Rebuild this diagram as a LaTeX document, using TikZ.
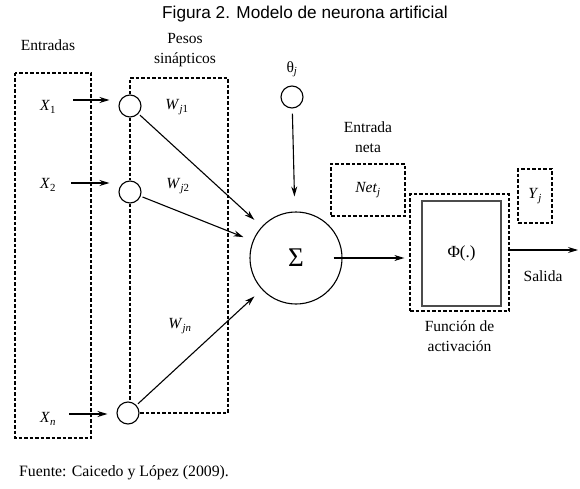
\documentclass[tikz,border=0pt]{standalone}
\usepackage{fontspec}
\setmainfont{Liberation Serif}
\newfontfamily\titlefont{Liberation Sans}
\usetikzlibrary{positioning,arrows.meta}
\tikzset{
  neuron/.style={draw, circle, minimum size=22pt, inner sep=0pt, line width=1.1pt},
  dashbox/.style={draw, dash pattern=on 3.5pt off 2pt, line width=1.3pt},
  lbl/.style={font=\fontsize{15.5}{20}\selectfont, inner sep=1pt},
  conn/.style={-{Stealth[length=10pt,width=6pt]}, line width=1.1pt},
}
\begin{document}
\begin{tikzpicture}[x=1pt,y=-1pt]
    \useasboundingbox (0,0) rectangle (580,489);
    \fill[white] (0,0) rectangle (580,489);
    \node[font=\titlefont\fontsize{17.2}{19}\selectfont] (title) at (305,14) {Figura 2. Modelo de neurona artificial};
    % entradas
    \node[lbl] (ent) at (48,45) {Entradas};
    \draw[dashbox] (15,73) rectangle (91,438);
    \node[lbl] (x1) at (48,107) {\textit{X}\textsubscript{1}};
    \node[lbl] (x2) at (48,185) {\textit{X}\textsubscript{2}};
    \node[lbl] (xn) at (48,419) {\textit{X}\textsubscript{\textit{n}}};
    % pesos sinapticos
    \node[lbl, align=center] (pes) at (185,50) {Pesos\\sinápticos};
    \node[neuron] (c1) at (130,106) {};
    \node[neuron] (c2) at (130,192) {};
    \node[neuron] (cn) at (128,413) {};
    \draw[dashbox] (c1.north) -- (c1.north |- 0,78) -| (228,413) -- (cn.east);
    \draw[dashbox] (c1.south) -- (c2.north);
    \draw[dashbox] (c2.south) -- (cn.north -| c2.south);
    \node[lbl] (w1) at (177,107) {\textit{W}\textsubscript{\textit{j}1}};
    \node[lbl] (w2) at (178,186) {\textit{W}\textsubscript{\textit{j}2}};
    \node[lbl] (wn) at (180,326) {\textit{W}\textsubscript{\textit{jn}}};
    \coordinate (in1) at (73,100);
    \coordinate (in2) at (71,183);
    \coordinate (inn) at (69,414);
    \draw[conn, shorten >=9pt] (in1) -- (in1 -| c1.west);
    \draw[conn, shorten >=9pt] (in2) -- (in2 -| c2.west);
    \draw[conn, shorten >=9pt] (inn) -- (inn -| cn.west);
    % umbral y sumador
    \node[neuron] (th) at (292,97) {};
    \node[lbl, above=7pt of th] (thl) {θ\textsubscript{\textit{j}}};
    \node[draw, circle, minimum size=92pt, line width=1.1pt, font=\fontsize{27}{29}\selectfont] (sum) at (296,258) {Σ};
    \draw[conn, shorten <=2pt, shorten >=10pt] (c1) -- (sum);
    \draw[conn, shorten <=2pt, shorten >=10pt] (c2) -- (sum);
    \draw[conn, shorten <=2pt, shorten >=10pt] (cn) -- (sum);
    \draw[conn, shorten <=5pt, shorten >=15pt] (th) -- (sum);
    % entrada neta
    \node[dashbox, lbl, minimum width=74pt, minimum height=52pt] (net) at (368,190) {\textit{Net}\textsubscript{\textit{j}}};
    \node[lbl, align=center, above=9pt of net] (netl) {Entrada\\neta};
    % funcion de activacion
    \node[dashbox, minimum width=99pt, minimum height=117pt] (act) at (459.5,252.5) {};
    \node[draw, line width=1.5pt, draw=black!70, lbl, minimum width=79pt, minimum height=105pt] (phi) at (461.5,253.5) {\fontsize{17}{20}\selectfont Φ(.)};
    \node[lbl, align=center, below=8pt of act] (actl) {Función de\\activación};
    \draw[conn, shorten >=5pt] ([xshift=-9pt]sum.east) -- (sum.east -| act.west);
    % salida
    \node[dashbox, lbl, minimum width=34pt, minimum height=54pt] (y) at (535,196) {\textit{Y}\textsubscript{\textit{j}}};
    \coordinate (out) at (578,250);
    \draw[conn] (out -| act.east) -- (out);
    \node[lbl] (sal) at (543,276) {Salida};
    \node[lbl, anchor=west, font=\fontsize{15.8}{20}\selectfont] (src) at (18,473) {Fuente: Caicedo y López (2009).};
\end{tikzpicture}
\end{document}
